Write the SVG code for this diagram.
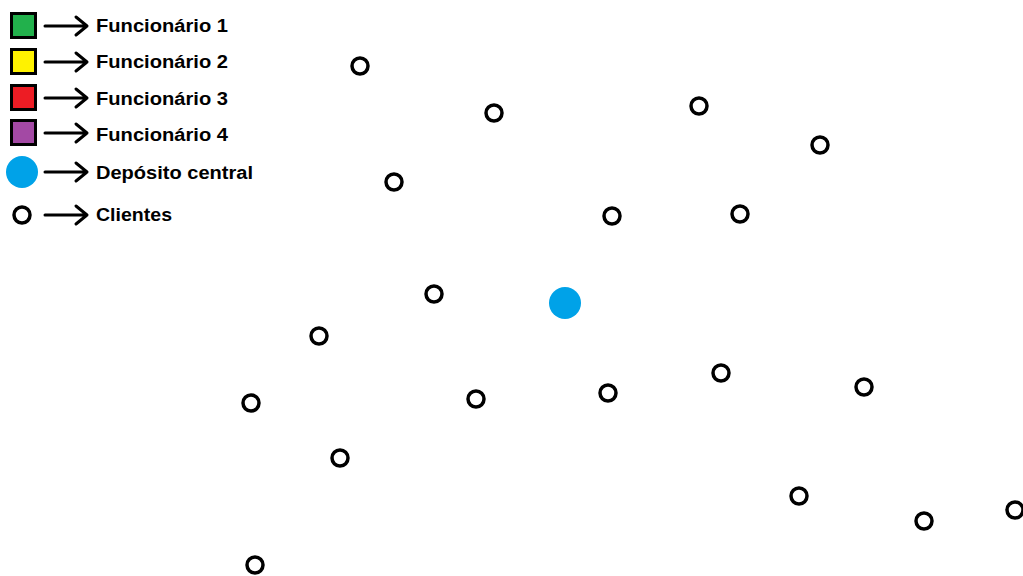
<svg xmlns="http://www.w3.org/2000/svg" width="1023" height="576" viewBox="0 0 1023 576">
<style>
.sq{stroke:#000;stroke-width:3}
.cl{fill:#fff;stroke:#000;stroke-width:3.5}
.dp{fill:#00a2e8}
.ar{fill:none;stroke:#000;stroke-width:3;stroke-linecap:round;stroke-linejoin:round}
.lb{font-family:"Liberation Sans",Arial,sans-serif;font-weight:bold;font-size:18px;fill:#000}
</style>
<defs>
<path id="arr" class="ar" d="M45 0 H87 M76 -9 L87 0 L76 9"/>
</defs>
<rect width="1023" height="576" fill="#fff"/>
<g id="legend">
<g id="leg-f1"><rect class="sq" x="11.5" y="13.5" width="24" height="24" fill="#22b14c"/><use href="#arr" y="26"/><text class="lb" x="96" y="32" textLength="132" lengthAdjust="spacingAndGlyphs">Funcionário 1</text></g>
<g id="leg-f2"><rect class="sq" x="11.5" y="49.5" width="24" height="24" fill="#fff200"/><use href="#arr" y="62"/><text class="lb" x="96" y="68" textLength="132" lengthAdjust="spacingAndGlyphs">Funcionário 2</text></g>
<g id="leg-f3"><rect class="sq" x="11.5" y="85.5" width="24" height="24" fill="#ed1c24"/><use href="#arr" y="98"/><text class="lb" x="96" y="105" textLength="132" lengthAdjust="spacingAndGlyphs">Funcionário 3</text></g>
<g id="leg-f4"><rect class="sq" x="11.5" y="120.5" width="24" height="24" fill="#a349a4"/><use href="#arr" y="133"/><text class="lb" x="96" y="141" textLength="132" lengthAdjust="spacingAndGlyphs">Funcionário 4</text></g>
<g id="leg-dep"><circle class="dp" cx="22" cy="172" r="16"/><use href="#arr" y="172"/><text class="lb" x="96" y="179" textLength="157" lengthAdjust="spacingAndGlyphs">Depósito central</text></g>
<g id="leg-cli"><circle class="cl" cx="22" cy="215" r="8"/><use href="#arr" y="215"/><text class="lb" x="96" y="221" textLength="76" lengthAdjust="spacingAndGlyphs">Clientes</text></g>
</g>
<g id="connectors"></g>
<g id="depot"><circle class="dp" cx="565" cy="303" r="16"/></g>
<g id="clients">
<circle id="c1" class="cl" cx="360" cy="66" r="8"/>
<circle id="c2" class="cl" cx="494" cy="113" r="8"/>
<circle id="c3" class="cl" cx="699" cy="106" r="8"/>
<circle id="c4" class="cl" cx="820" cy="145" r="8"/>
<circle id="c5" class="cl" cx="394" cy="182" r="8"/>
<circle id="c6" class="cl" cx="612" cy="216" r="8"/>
<circle id="c7" class="cl" cx="740" cy="214" r="8"/>
<circle id="c8" class="cl" cx="434" cy="294" r="8"/>
<circle id="c9" class="cl" cx="319" cy="336" r="8"/>
<circle id="c10" class="cl" cx="251" cy="403" r="8"/>
<circle id="c11" class="cl" cx="476" cy="399" r="8"/>
<circle id="c12" class="cl" cx="608" cy="393" r="8"/>
<circle id="c13" class="cl" cx="721" cy="373" r="8"/>
<circle id="c14" class="cl" cx="864" cy="387" r="8"/>
<circle id="c15" class="cl" cx="340" cy="458" r="8"/>
<circle id="c16" class="cl" cx="799" cy="496" r="8"/>
<circle id="c17" class="cl" cx="924" cy="521" r="8"/>
<circle id="c18" class="cl" cx="1015" cy="510" r="8"/>
<circle id="c19" class="cl" cx="255" cy="565" r="8"/>
</g>
</svg>
